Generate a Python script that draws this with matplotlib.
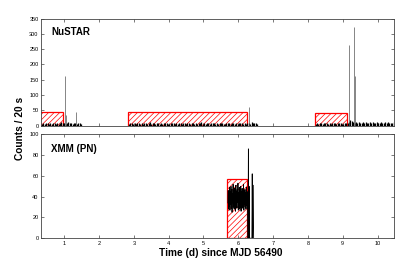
import numpy as np
import matplotlib
matplotlib.use("Agg")
import matplotlib.pyplot as plt
from matplotlib.patches import Rectangle

plt.rcParams['font.family'] = ['Liberation Sans', 'DejaVu Sans']
plt.rcParams['hatch.linewidth'] = 0.5

# NuSTAR light curve, 20 s bins (sampled every 0.04 d)
nu_step = 0.04
nu_seg_start = [0.36, 2.86, 8.22]
nu_seg1 = [6, 8, 5, 9, 7, 4, 8, 6, 10, 7, 5, 9, 6, 8, 12, 7, 9, 6, 8, 11,
           7, 9, 5, 8, 10, 6, 9, 7, 5]
nu_seg2 = [5, 7, 9, 6, 8, 4, 7, 10, 6, 8, 5, 9, 7, 6, 8, 11, 5, 7, 9, 6,
           8, 7, 5, 9, 6, 10, 7, 8, 5, 6, 9, 7, 8, 6, 10, 5, 7, 9, 6, 8,
           7, 5, 8, 10, 6, 9, 7, 5, 8, 6, 9, 7, 11, 6, 8, 5, 7, 9, 6, 8,
           10, 7, 5, 8, 6, 9, 7, 8, 6, 5, 9, 7, 10, 6, 8, 7, 5, 9, 6, 8,
           7, 10, 6, 9, 5, 8, 7, 6, 12, 9, 7, 8, 6]
nu_seg3 = [6, 8, 5, 9, 7, 6, 10, 7, 8, 5, 9, 6, 8, 7, 10, 6, 9, 7, 8, 6,
           5, 9, 7, 8, 12, 18, 14, 11, 10, 12, 9, 11, 10, 8, 12, 9, 11, 10, 9, 12,
           8, 11, 10, 9, 12, 10, 8, 11, 9, 10, 12, 9, 11, 8, 10, 9, 11]
nu_spike_t = [1.03, 1.06, 1.33, 6.31, 9.17, 9.32, 9.34]
nu_spike_c = [163, 35, 46, 62, 265, 323, 163]

# NuSTAR good time intervals (red hatched boxes)
nu_box_start = [0.30, 2.82, 8.20]
nu_box_end = [0.95, 6.25, 9.13]
nu_box_height = [44, 44, 42]

# XMM (PN) light curve
xmm_start = 5.70
xmm_step = 0.01
xmm_band = [34, 46, 28, 44, 31, 49, 27, 45, 33, 50, 29, 47, 25, 43, 36, 52,
            30, 46, 28, 48, 33, 44, 26, 51, 31, 45, 29, 47, 35, 53, 27, 44,
            32, 49, 28, 46, 30, 50, 26, 45, 34, 48, 29, 43, 31, 52, 27, 46,
            33, 47, 30, 44, 28, 49, 32, 45, 29, 40]
xmm_tail_t = [6.28, 6.29, 6.30, 6.31, 6.32, 6.39, 6.40, 6.41, 6.43, 6.44]
xmm_tail_c = [0, 86, 0, 50, 0, 0, 62, 0, 51, 0]
xmm_box_start = [5.68]
xmm_box_end = [6.26]
xmm_box_height = [57]

fig = plt.figure(figsize=(4.15, 2.65), dpi=100)
ax1 = fig.add_axes([0.0995, 0.526, 0.8505, 0.404])
ax2 = fig.add_axes([0.0995, 0.101, 0.8505, 0.392])

# top panel: NuSTAR
for start, seg in zip(nu_seg_start, [nu_seg1, nu_seg2, nu_seg3]):
    t = start + nu_step * np.arange(len(seg))
    ax1.vlines(t, 0, seg, color='k', lw=0.9)
ax1.vlines(nu_spike_t, 0, nu_spike_c, color='#555555', lw=0.5)
for s, e, h in zip(nu_box_start, nu_box_end, nu_box_height):
    ax1.add_patch(Rectangle((s, 0), e - s, h, facecolor='none',
                            edgecolor='red', lw=0.9, hatch='//////'))

# bottom panel: XMM
t_band = xmm_start + xmm_step * np.arange(len(xmm_band))
xmm_t = np.concatenate([t_band, xmm_tail_t])
xmm_c = np.concatenate([xmm_band, xmm_tail_c])
ax2.plot(xmm_t, xmm_c, color='k', lw=0.6)
for s, e, h in zip(xmm_box_start, xmm_box_end, xmm_box_height):
    ax2.add_patch(Rectangle((s, 0), e - s, h, facecolor='none',
                            edgecolor='red', lw=0.9, hatch='//////'))

for ax in (ax1, ax2):
    ax.set_xlim(0.34, 10.48)
    ax.set_xticks(range(1, 11))
    ax.tick_params(direction='in', top=True, right=True, length=2.5,
                   width=0.5, labelsize=4, pad=2, color='#444444')
    for sp in ax.spines.values():
        sp.set_linewidth(0.6)
        sp.set_color('#444444')

ax1.set_ylim(0, 350)
ax1.set_yticks(range(0, 351, 50))
ax1.tick_params(labelbottom=False)
ax2.set_ylim(0, 100)
ax2.set_yticks(range(0, 101, 20))

ax1.text(0.028, 0.87, 'NuSTAR', transform=ax1.transAxes, fontsize=7,
         fontweight='bold', va='center')
ax2.text(0.028, 0.855, 'XMM (PN)', transform=ax2.transAxes, fontsize=7,
         fontweight='bold', va='center')

fig.text(0.048, 0.517, 'Counts / 20 s', rotation=90, fontsize=7.3,
         fontweight='bold', ha='center', va='center')
fig.text(0.531, 0.045, 'Time (d) since MJD 56490', fontsize=7.3,
         fontweight='bold', ha='center', va='center')

fig.savefig('out.png', dpi=100)
